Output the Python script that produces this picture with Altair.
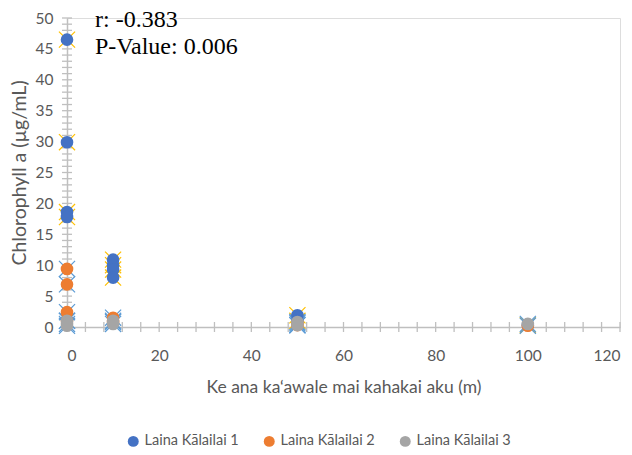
import altair as alt
import pandas as pd

# ---- data ----
series_names = ["Laina Kālailai 1", "Laina Kālailai 2", "Laina Kālailai 3"]
s1_x = [0, 0, 0, 0, 10, 10, 10, 10, 50, 50, 100]
s1_y = [46.5, 29.9, 18.6, 17.8, 10.9, 10.0, 9.3, 8.0, 1.9, 1.0, 0.3]
s2_x = [0, 0, 0, 0, 10, 10, 50, 50, 100]
s2_y = [9.4, 6.9, 2.4, 1.0, 1.5, 0.8, 0.6, 0.3, 0.2]
s3_x = [0, 0, 0, 10, 10, 50, 50, 100]
s3_y = [1.0, 0.5, 0.2, 1.0, 0.5, 0.8, 0.3, 0.5]

series_colors = ["#4472C4", "#ED7D31", "#A5A5A5"]
cross_colors = ["#FFC000", "#5B9BD5", "#5B9BD5"]

x_label_values = [0, 20, 40, 60, 80, 100, 120]
y_label_values = [0, 5, 10, 15, 20, 25, 30, 35, 40, 45, 50]
x_minor_ticks = list(range(0, 121, 4))
y_minor_ticks = list(range(0, 51, 1))
annotation_lines = ["r: -0.383", "P-Value: 0.006"]

rows = []
for name, xs, ys, cc in zip(series_names, [s1_x, s2_x, s3_x], [s1_y, s2_y, s3_y], cross_colors):
    for xv, yv in zip(xs, ys):
        rows.append({"series": name, "dist": xv, "chl": yv, "cross": cc})
df = pd.DataFrame(rows)

W, H = 553, 309
AX = "#BFBFBF"
LBL = "#595959"
FONT = "Lato"

xscale = alt.Scale(domain=[0, 120], nice=False, zero=False)
yscale = alt.Scale(domain=[0, 50], nice=False)

x_axis = alt.Axis(values=x_label_values, grid=False, ticks=False,
                  domainColor=AX, domainWidth=1.5, labelColor=LBL,
                  labelFont=FONT, labelFontSize=15.5, labelPadding=21,
                  title="Ke ana ka‘awale mai kahakai aku (m)",
                  titleFont=FONT, titleFontSize=17.5, titleFontWeight="normal",
                  titleColor=LBL, titlePadding=15)
y_axis = alt.Axis(values=y_label_values, grid=False, ticks=False,
                  domainColor=AX, domainWidth=1.5, labelColor=LBL,
                  labelFont=FONT, labelFontSize=15.5, labelPadding=14,
                  title="Chlorophyll a (µg/mL)",
                  titleFont=FONT, titleFontSize=19.5, titleFontWeight="normal",
                  titleColor=LBL, titlePadding=6)

base = alt.Chart(df)

xt = alt.Chart(pd.DataFrame({"t": x_minor_ticks})).mark_rule(color=AX, strokeWidth=1.3).encode(
    x=alt.X("t:Q", scale=xscale, axis=x_axis), y=alt.value(H - 5), y2=alt.value(H + 5))
yt = alt.Chart(pd.DataFrame({"t": y_minor_ticks})).mark_rule(color=AX, strokeWidth=1.3).encode(
    y=alt.Y("t:Q", scale=yscale, axis=y_axis), x=alt.value(-5), x2=alt.value(5))

crosses = base.mark_point(
    shape="M-1,-1L1,1M-1,1L1,-1", filled=False, strokeWidth=1.2, size=260, opacity=1
).encode(
    x=alt.X("dist:Q", scale=xscale, axis=x_axis),
    y=alt.Y("chl:Q", scale=yscale, axis=y_axis),
    stroke=alt.Color("cross:N", scale=None),
)

circles = base.mark_point(
    shape="circle", filled=True, size=160, opacity=1, strokeWidth=0
).encode(
    x=alt.X("dist:Q", scale=xscale, axis=x_axis),
    y=alt.Y("chl:Q", scale=yscale, axis=y_axis),
    color=alt.Color("series:N",
                    scale=alt.Scale(domain=series_names, range=series_colors),
                    legend=alt.Legend(title=None, orient="none", direction="horizontal",
                                      legendX=59, legendY=416, symbolType="circle",
                                      symbolSize=120, labelFont=FONT, labelFontSize=14.5,
                                      labelColor=LBL, columnPadding=23,
                                      symbolStrokeWidth=0)),
)

ann_layers = []
for i, line in enumerate(annotation_lines):
    ann_layers.append(
        alt.Chart(pd.DataFrame({"txt": [line]})).mark_text(
            font="Liberation Serif", fontSize=24, align="left", baseline="alphabetic",
            color="#000000"
        ).encode(text="txt:N", x=alt.value(28), y=alt.value(9 + 27 * i))
    )

chart = alt.layer(xt, yt, crosses, circles, *ann_layers).properties(
    width=W, height=H,
    padding={"left": 59, "top": 10, "right": 4, "bottom": 120},
    autosize=alt.AutoSizeParams(type="none"),
).configure_view(stroke=None).configure_axis(grid=False).configure(background="white")

chart.save("out.html", embed_options={"renderer": "svg", "actions": False})
